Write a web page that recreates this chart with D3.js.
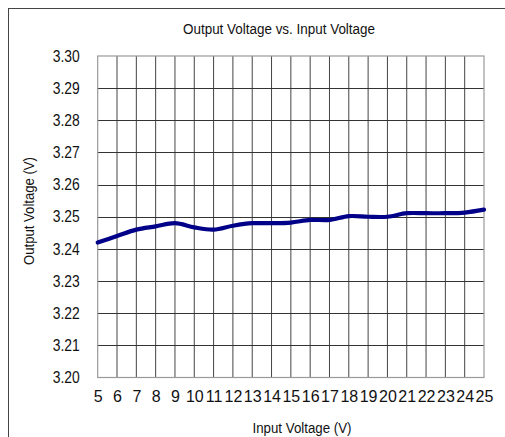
<!DOCTYPE html>
<html lang="en">
<head>
    <meta charset="UTF-8"/>
    <title>Output Voltage vs. Input Voltage</title>
    <script src="https://d3js.org/d3.v7.min.js"></script>
    <style>
        body, html {
            margin: 0;
            padding: 0;
            background: #fff;
            font-family: "Liberation Sans", Arial, sans-serif;
        }
        svg { display: block; }
    </style>
</head>
<body>
<svg id="chart" width="505" height="437"></svg>
<script>
    // data
    const inputVoltage = [5, 6, 7, 8, 9, 10, 11, 12, 13, 14, 15, 16, 17, 18, 19, 20, 21, 22, 23, 24, 25];
    const outputVoltage = [3.242, 3.244, 3.246, 3.247, 3.248, 3.2467, 3.246, 3.2472, 3.248, 3.248, 3.2482,
        3.249, 3.249, 3.2502, 3.250, 3.250, 3.2511, 3.2511, 3.2511, 3.2513, 3.2522];
    const yTicks = [3.20, 3.21, 3.22, 3.23, 3.24, 3.25, 3.26, 3.27, 3.28, 3.29, 3.30];

    const svg = d3.select("#chart");
    const plotLeft = 97.7, plotRight = 484, plotTop = 56, plotBottom = 377.5;

    // outer frame (only top and left edges visible)
    svg.append("rect")
        .attr("x", 8.5).attr("y", 8.5)
        .attr("width", 600).attr("height", 600)
        .attr("fill", "none")
        .attr("stroke", "#444")
        .attr("stroke-width", 1);

    const x = d3.scaleLinear().domain([5, 25]).range([plotLeft, plotRight]);
    const y = d3.scaleLinear().domain([3.20, 3.30]).range([plotBottom, plotTop]);

    // grid
    svg.append("g")
        .selectAll("line")
        .data(inputVoltage.slice(1, -1))
        .join("line")
        .attr("x1", d => x(d)).attr("x2", d => x(d))
        .attr("y1", plotTop).attr("y2", plotBottom)
        .attr("stroke", "#444")
        .attr("stroke-width", 1);

    svg.append("g")
        .selectAll("line")
        .data(yTicks.slice(1, -1))
        .join("line")
        .attr("x1", plotLeft).attr("x2", plotRight)
        .attr("y1", d => Math.round(y(d)) + 0.5).attr("y2", d => Math.round(y(d)) + 0.5)
        .attr("stroke", "#333")
        .attr("stroke-width", 1);

    svg.append("rect")
        .attr("x", plotLeft).attr("y", plotTop)
        .attr("width", plotRight - plotLeft).attr("height", plotBottom - plotTop)
        .attr("fill", "none")
        .attr("stroke", "#999")
        .attr("stroke-width", 1.2);

    // axes
    const xAxis = svg.append("g")
        .attr("transform", `translate(0,${plotBottom})`)
        .call(d3.axisBottom(x).tickValues(inputVoltage).tickSize(0).tickPadding(13).tickFormat(d3.format("d")));
    xAxis.select(".domain").remove();
    xAxis.selectAll("text")
        .attr("font-family", "Liberation Sans, Arial, sans-serif")
        .attr("font-size", 16)
        .attr("fill", "#111");

    const yAxis = svg.append("g")
        .attr("transform", `translate(${plotLeft},0)`)
        .call(d3.axisLeft(y).tickValues(yTicks).tickSize(0).tickPadding(18).tickFormat(d3.format(".2f")));
    yAxis.select(".domain").remove();
    yAxis.selectAll("text")
        .attr("font-family", "Liberation Sans, Arial, sans-serif")
        .attr("font-size", 16)
        .attr("fill", "#111")
        .attr("textLength", 27)
        .attr("lengthAdjust", "spacingAndGlyphs");

    // data line, smoothed like the spreadsheet original
    const line = d3.line()
        .x((d, i) => x(inputVoltage[i]))
        .y(d => y(d))
        .curve(d3.curveCatmullRom.alpha(0.5));

    svg.append("path")
        .datum(outputVoltage)
        .attr("fill", "none")
        .attr("stroke", "#000088")
        .attr("stroke-width", 4.2)
        .attr("stroke-linecap", "round")
        .attr("d", line);

    // titles
    svg.append("text")
        .attr("x", 279).attr("y", 33.5)
        .attr("text-anchor", "middle")
        .attr("font-size", 14)
        .attr("fill", "#111")
        .attr("textLength", 192)
        .attr("lengthAdjust", "spacingAndGlyphs")
        .text("Output Voltage vs. Input Voltage");

    svg.append("text")
        .attr("x", 302).attr("y", 433)
        .attr("text-anchor", "middle")
        .attr("font-size", 14)
        .attr("fill", "#111")
        .attr("textLength", 99)
        .attr("lengthAdjust", "spacingAndGlyphs")
        .text("Input Voltage (V)");

    svg.append("text")
        .attr("transform", "translate(34,211) rotate(-90)")
        .attr("text-anchor", "middle")
        .attr("font-size", 14)
        .attr("fill", "#111")
        .attr("textLength", 108)
        .attr("lengthAdjust", "spacingAndGlyphs")
        .text("Output Voltage (V)");
</script>
</body>
</html>
